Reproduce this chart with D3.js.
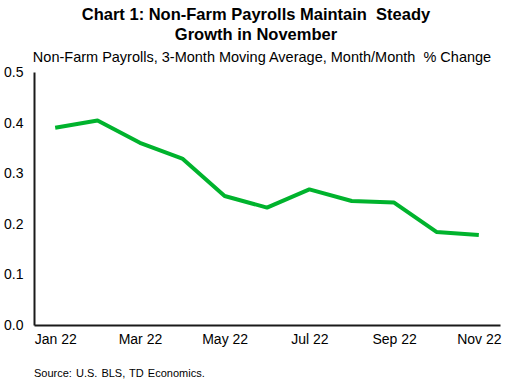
<!DOCTYPE html>
<html>
<head>
<meta charset="utf-8">
<script src="https://cdn.jsdelivr.net/npm/d3@7"></script>
<style>
  body { margin: 0; background: #fff; }
  text { font-family: "Liberation Sans", Arial, sans-serif; fill: #000; white-space: pre; }
</style>
</head>
<body>
<div id="chart"></div>
<script>
// data
var months = ["Jan 22", "Feb 22", "Mar 22", "Apr 22", "May 22", "Jun 22",
              "Jul 22", "Aug 22", "Sep 22", "Oct 22", "Nov 22"];
var payrolls = [0.390, 0.404, 0.360, 0.329, 0.255, 0.232, 0.268, 0.245, 0.242, 0.184, 0.178];
var yTicks = [0, 0.1, 0.2, 0.3, 0.4, 0.5];
var xTickLabels = ["Jan 22", "Mar 22", "May 22", "Jul 22", "Sep 22", "Nov 22"];

var svgWidth = 515;
var svgHeight = 384;
var margin = {top: 72, right: 15, bottom: 59, left: 34};
var width = svgWidth - margin.left - margin.right;
var height = svgHeight - margin.top - margin.bottom;

var svg = d3.select("#chart")
  .append("svg")
  .attr("width", svgWidth)
  .attr("height", svgHeight);

// title + subtitle
svg.append("text")
  .attr("x", 256).attr("y", 20)
  .attr("text-anchor", "middle")
  .style("font-size", "16.5px").style("font-weight", "bold")
  .text("Chart 1: Non-Farm Payrolls Maintain  Steady");
svg.append("text")
  .attr("x", 256).attr("y", 40)
  .attr("text-anchor", "middle")
  .style("font-size", "16.5px").style("font-weight", "bold")
  .text("Growth in November");
svg.append("text")
  .attr("x", 262).attr("y", 62)
  .attr("text-anchor", "middle")
  .style("font-size", "14.5px")
  .text("Non-Farm Payrolls, 3-Month Moving Average, Month/Month  % Change");

var chartGroup = svg.append("g")
  .attr("transform", `translate(${margin.left}, ${margin.top})`);

var xScale = d3.scalePoint()
  .domain(months)
  .range([0, width])
  .padding(0.5);

var yScale = d3.scaleLinear()
  .domain([0, 0.5])
  .range([height, 0]);

// y axis
var leftAxis = d3.axisLeft(yScale)
  .tickValues(yTicks)
  .tickFormat(d3.format(".1f"))
  .tickSize(0)
  .tickPadding(10);
var yAxis = chartGroup.append("g").call(leftAxis);
yAxis.select(".domain").attr("stroke", "#1a1a1a").attr("stroke-width", 2);
yAxis.selectAll("text")
  .attr("text-anchor", "start")
  .attr("x", -30)
  .style("font-size", "14px");

// x axis
var bottomAxis = d3.axisBottom(xScale)
  .tickValues(xTickLabels)
  .tickSize(0)
  .tickPadding(9);
var xAxis = chartGroup.append("g")
  .attr("transform", `translate(0, ${height})`)
  .call(bottomAxis);
xAxis.select(".domain").attr("stroke", "#1a1a1a").attr("stroke-width", 2);
xAxis.selectAll("text").style("font-size", "14px");

// line
var line = d3.line()
  .x((d, i) => xScale(months[i]))
  .y(d => yScale(d));

chartGroup.append("path")
  .datum(payrolls)
  .attr("d", line)
  .attr("fill", "none")
  .attr("stroke", "#00b32d")
  .attr("stroke-width", 4)
  .attr("stroke-linejoin", "round");

// source
svg.append("text")
  .attr("x", 34).attr("y", 377)
  .style("font-size", "11px")
  .style("word-spacing", "1px")
  .text("Source: U.S. BLS, TD Economics.");
</script>
</body>
</html>
